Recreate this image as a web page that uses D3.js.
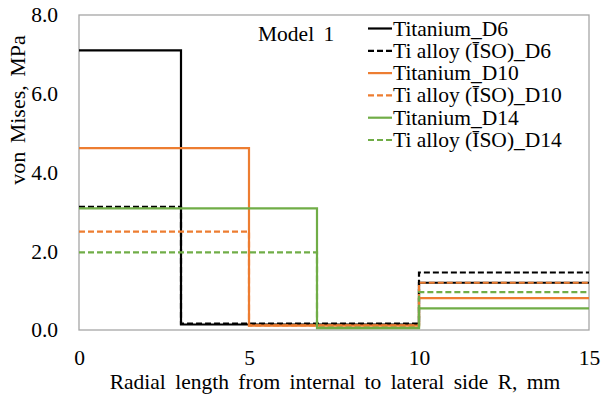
<!DOCTYPE html>
<html>
<head>
<meta charset="utf-8">
<script src="https://cdn.jsdelivr.net/npm/d3@7"></script>
<style>
  html, body { margin: 0; padding: 0; background: #fff; }
  svg { display: block; }
  svg text { font-family: "Liberation Serif", "Times New Roman", Times, "DejaVu Serif", "Noto Serif", serif; }
</style>
</head>
<body>
<svg id="chart" width="603" height="400"></svg>
<script>
// ---- data ----
const seriesNames = ["Titanium_D6", "Ti alloy (\u012ASO)_D6", "Titanium_D10", "Ti alloy (\u012ASO)_D10", "Titanium_D14", "Ti alloy (\u012ASO)_D14"];
const xD6  = [0, 3, 10, 15];
const xD10 = [0, 5, 10, 15];
const xD14 = [0, 7, 10, 15];
const titaniumD6  = [7.10, 0.14, 1.20, 1.20];
const tiAlloyD6   = [3.13, 0.16, 1.46, 1.46];
const titaniumD10 = [4.62, 0.11, 0.81, 0.81];
const tiAlloyD10  = [2.50, 0.12, 1.20, 1.20];
const titaniumD14 = [3.09, 0.05, 0.55, 0.55];
const tiAlloyD14  = [1.97, 0.06, 0.96, 0.96];
const xTicks = [0, 5, 10, 15];
const yTicks = [0, 2, 4, 6, 8];
const modelLabel = "Model 1";
const xTitle = "Radial length from internal to lateral side R, mm";
const yTitle = "von Mises, MPa";

const series = [
  { name: seriesNames[0], xs: xD6,  ys: titaniumD6,  color: "#000000", dash: null },
  { name: seriesNames[1], xs: xD6,  ys: tiAlloyD6,   color: "#000000", dash: "6,3" },
  { name: seriesNames[2], xs: xD10, ys: titaniumD10, color: "#ED7D31", dash: null },
  { name: seriesNames[3], xs: xD10, ys: tiAlloyD10,  color: "#ED7D31", dash: "6,3" },
  { name: seriesNames[4], xs: xD14, ys: titaniumD14, color: "#70AD47", dash: null },
  { name: seriesNames[5], xs: xD14, ys: tiAlloyD14,  color: "#70AD47", dash: "6,3" }
];

// ---- layout ----
const FONT = "'Liberation Serif', 'Times New Roman', Times, 'DejaVu Serif', serif";
const svg = d3.select("#chart");
const L = 79, R = 589, T = 15, B = 330;
const x = d3.scaleLinear().domain([0, 15]).range([L, R]);
const y = d3.scaleLinear().domain([0, 8]).range([B, T]);

// plot frame
svg.append("rect")
  .attr("x", L).attr("y", T).attr("width", R - L).attr("height", B - T)
  .attr("fill", "none").attr("stroke", "#a6a6a6").attr("stroke-width", 1.3);

// axes (labels only, frame drawn above)
const xAxis = svg.append("g").attr("transform", `translate(0,${B})`)
  .call(d3.axisBottom(x).tickValues(xTicks).tickSize(0).tickPadding(20).tickFormat(d3.format("d")));
xAxis.attr("font-family", FONT);
xAxis.select(".domain").remove();
xAxis.selectAll("text").attr("font-size", 21.5).attr("fill", "#000");

const yAxis = svg.append("g").attr("transform", `translate(${L},0)`)
  .call(d3.axisLeft(y).tickValues(yTicks).tickSize(0).tickPadding(21).tickFormat(d3.format(".1f")));
yAxis.attr("font-family", FONT);
yAxis.select(".domain").remove();
yAxis.selectAll("text").attr("font-size", 21.5).attr("fill", "#000");

// lines
const line = d3.line().x(d => x(d[0])).y(d => y(d[1])).curve(d3.curveStepAfter);
series.forEach(s => {
  const pts = s.xs.map((xv, i) => [xv, s.ys[i]]);
  svg.append("path")
    .attr("d", line(pts))
    .attr("fill", "none")
    .attr("stroke", s.color)
    .attr("stroke-width", 2.2)
    .attr("stroke-dasharray", s.dash)
    .attr("stroke-linejoin", "miter");
});

// model label
svg.append("text").attr("x", 258).attr("y", 41).attr("font-family", FONT)
  .attr("font-size", 21.5).attr("word-spacing", 4).attr("fill", "#000").text(modelLabel);

// legend
const lg = svg.append("g").attr("font-family", FONT);
series.forEach((s, i) => {
  const cy = 28.5 + i * 22.3;
  lg.append("line").attr("x1", 368).attr("x2", 392).attr("y1", cy).attr("y2", cy)
    .attr("stroke", s.color).attr("stroke-width", 2.2).attr("stroke-dasharray", s.dash);
  lg.append("text").attr("x", 393).attr("y", cy + 7)
    .attr("font-size", 21.5).attr("fill", "#000").text(s.name);
});

// axis titles
svg.append("text").attr("x", (L + R) / 2 + 1).attr("y", 389).attr("font-family", FONT)
  .attr("text-anchor", "middle").attr("font-size", 21.5).attr("word-spacing", 4)
  .attr("fill", "#000").text(xTitle);

svg.append("text").attr("font-family", FONT)
  .attr("transform", "translate(25,110) rotate(-90)")
  .attr("text-anchor", "middle").attr("font-size", 22).attr("word-spacing", 3)
  .attr("fill", "#000").text(yTitle);
</script>
</body>
</html>
